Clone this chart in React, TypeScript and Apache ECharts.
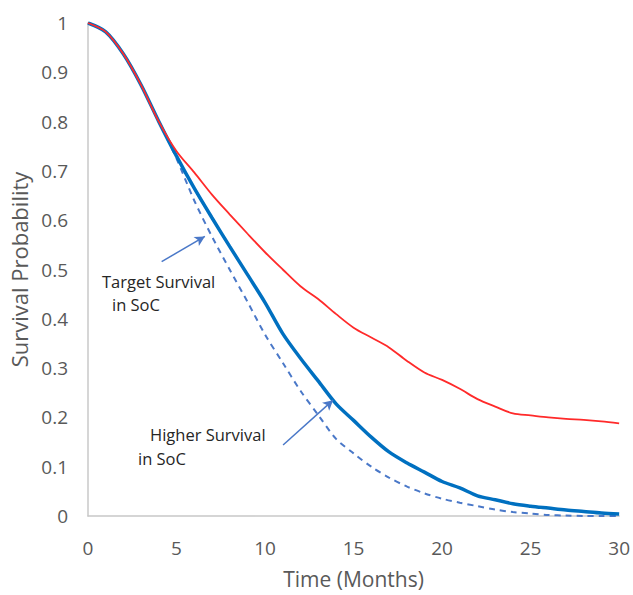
import React, { useEffect, useRef } from "react";
import * as echarts from "echarts";

const months = [0, 1, 2, 3, 4, 5, 6, 7, 8, 9, 10, 11, 12, 13, 14, 15, 16, 17, 18, 19, 20, 21, 22, 23, 24, 25, 26, 27, 28, 29, 30];
const commonStart = [1.0, 0.982, 0.937, 0.874, 0.8];
const targetTail = [0.74, 0.697, 0.652, 0.612, 0.573, 0.535, 0.5, 0.466, 0.44, 0.41, 0.382, 0.362, 0.342, 0.315, 0.291, 0.276, 0.258, 0.237, 0.222, 0.208, 0.204, 0.2, 0.197, 0.195, 0.192, 0.188];
const higherTail = [0.73, 0.665, 0.605, 0.547, 0.49, 0.433, 0.37, 0.32, 0.274, 0.228, 0.194, 0.16, 0.13, 0.108, 0.089, 0.07, 0.057, 0.041, 0.033, 0.025, 0.02, 0.016, 0.012, 0.009, 0.006, 0.004];
const socTail = [0.725, 0.64, 0.567, 0.5, 0.435, 0.368, 0.311, 0.254, 0.205, 0.157, 0.127, 0.1, 0.078, 0.06, 0.046, 0.035, 0.027, 0.02, 0.013, 0.008, 0.005, 0.002, 0.001, 0, 0, 0];
const xTicks = [0, 5, 10, 15, 20, 25, 30];
const arrowTarget = [[4.16, 0.516], [6.6, 0.567]];
const arrowHigher = [[11.02, 0.144], [13.84, 0.235]];

const FONT = "Open Sans";

function pairs(tail: number[]) {
  const ys = [...commonStart, ...tail];
  return months.map((m, i) => [m, ys[i]]);
}

export default function App() {
  const ref = useRef<HTMLDivElement>(null);
  useEffect(() => {
    if (!ref.current) return;
    const chart = echarts.init(ref.current, null, { renderer: "svg" });
    const arrowStyle = { color: "#4a78c8", width: 1.5, type: "solid" as const };
    chart.setOption({
      animation: false,
      backgroundColor: "#ffffff",
      grid: { left: 88, right: 13, top: 23, bottom: 79, containLabel: false },
      xAxis: {
        type: "value",
        min: 0,
        max: 30,
        interval: 5,
        name: "Time (Months)",
        nameLocation: "middle",
        nameGap: 52,
        nameTextStyle: { fontFamily: FONT, fontSize: 21, color: "#595959" },
        axisLine: { show: true, lineStyle: { color: "#c8c8c8", width: 1.5 } },
        axisTick: { show: false },
        splitLine: { show: false },
        axisLabel: {
          fontFamily: FONT,
          fontSize: 19,
          color: "#595959",
          margin: 22,
          formatter: (v: number) => (xTicks.includes(v) ? String(v) : ""),
        },
      },
      yAxis: {
        type: "value",
        min: 0,
        max: 1,
        interval: 0.1,
        name: "Survival Probability",
        nameLocation: "middle",
        nameGap: 57,
        nameTextStyle: { fontFamily: FONT, fontSize: 22, color: "#595959" },
        axisLine: { show: true, lineStyle: { color: "#c8c8c8", width: 1.5 } },
        axisTick: { show: false },
        splitLine: { show: false },
        axisLabel: {
          fontFamily: FONT,
          fontSize: 19,
          color: "#595959",
          margin: 20,
          formatter: (v: number) => String(+v.toFixed(1)),
        },
      },
      graphic: [
        {
          type: "text",
          left: 102,
          top: 273,
          style: { text: "Target Survival", fontFamily: FONT, fontSize: 16.5, fill: "#262626" },
        },
        {
          type: "text",
          left: 112,
          top: 296,
          style: { text: "in SoC", fontFamily: FONT, fontSize: 16.5, fill: "#262626" },
        },
        {
          type: "text",
          left: 150,
          top: 426,
          style: { text: "Higher Survival", fontFamily: FONT, fontSize: 16.5, fill: "#262626" },
        },
        {
          type: "text",
          left: 138,
          top: 450,
          style: { text: "in SoC", fontFamily: FONT, fontSize: 16.5, fill: "#262626" },
        },
      ],
      series: [
        {
          name: "SoC",
          type: "line",
          data: pairs(socTail),
          smooth: 0.3,
          showSymbol: false,
          lineStyle: { color: "#4a78c8", width: 2, type: [6, 5] },
          z: 2,
          markLine: {
            silent: true,
            symbol: ["none", "arrow"],
            symbolSize: [8, 10],
            label: { show: false },
            lineStyle: arrowStyle,
            data: [
              [{ coord: arrowTarget[0] }, { coord: arrowTarget[1] }],
              [{ coord: arrowHigher[0] }, { coord: arrowHigher[1] }],
            ],
          },
        },
        {
          name: "Higher",
          type: "line",
          data: pairs(higherTail),
          smooth: 0.3,
          showSymbol: false,
          lineStyle: { color: "#0070c0", width: 3.5 },
          z: 3,
        },
        {
          name: "Target",
          type: "line",
          data: pairs(targetTail),
          smooth: 0.3,
          showSymbol: false,
          lineStyle: { color: "#ff2a2a", width: 1.8 },
          z: 4,
        },
      ],
    });
    return () => chart.dispose();
  }, []);
  return <div ref={ref} style={{ position: "fixed", left: 0, top: 0, width: 633, height: 595 }} />;
}
